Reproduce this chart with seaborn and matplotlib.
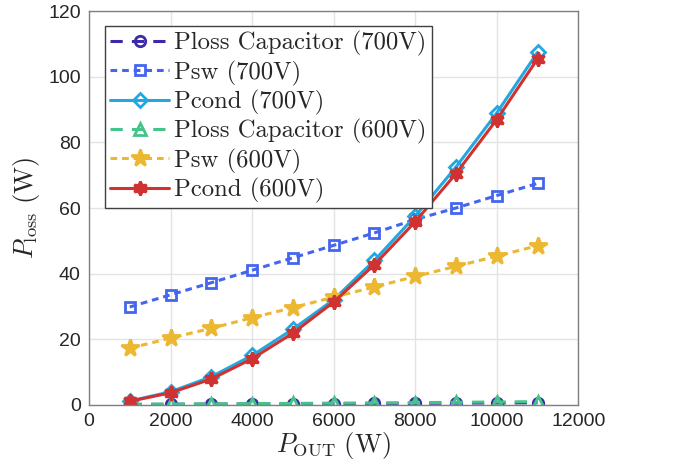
import matplotlib
matplotlib.use("Agg")
import matplotlib.pyplot as plt
import seaborn as sns
import pandas as pd

p_out = [1000, 2000, 3000, 4000, 5000, 6000, 7000, 8000, 9000, 10000, 11000]
ploss_cap_700 = [0.05, 0.1, 0.15, 0.2, 0.25, 0.3, 0.35, 0.4, 0.45, 0.5, 0.55]
psw_700 = [29.8, 33.5, 37.2, 41.0, 44.8, 48.6, 52.4, 56.5, 60.0, 63.8, 67.5]
pcond_700 = [1.1, 3.9, 8.5, 15.0, 23.0, 32.0, 44.0, 57.5, 72.5, 89.0, 107.5]
ploss_cap_600 = [0.1, 0.15, 0.2, 0.3, 0.35, 0.45, 0.5, 0.6, 0.7, 0.8, 0.9]
psw_600 = [17.2, 20.3, 23.3, 26.5, 29.6, 32.8, 35.9, 39.1, 42.2, 45.3, 48.5]
pcond_600 = [1.0, 3.6, 7.8, 14.0, 21.8, 31.3, 42.7, 55.8, 70.5, 87.0, 105.5]

labels = ["Ploss Capacitor (700V)", "Psw (700V)", "Pcond (700V)",
          "Ploss Capacitor (600V)", "Psw (600V)", "Pcond (600V)"]
series = [ploss_cap_700, psw_700, pcond_700, ploss_cap_600, psw_600, pcond_600]
x_ticks = [0, 2000, 4000, 6000, 8000, 10000, 12000]
y_ticks = [0, 20, 40, 60, 80, 100, 120]

sns.set_style("white")
plt.rcParams["mathtext.fontset"] = "cm"
plt.rcParams["font.family"] = ["Liberation Sans", "DejaVu Sans"]

styles = [
    dict(color="#3a2aa8", marker="o", linestyle=(0, (4, 3)), mfc="none", ms=7.5),
    dict(color="#4466ee", marker="s", linestyle=(0, (2.2, 1.6)), mfc="none", ms=6.5),
    dict(color="#22a8de", marker="D", linestyle="-", mfc="none", ms=7),
    dict(color="#44c48a", marker="^", linestyle=(0, (4, 3)), mfc="none", ms=8.5),
    dict(color="#ecb731", marker="*", linestyle=(0, (2.2, 1.6)), mfc="#ecb731", ms=13),
    dict(color="#d03232", marker=(6, 1, 0), linestyle="-", mfc="#d03232", ms=10),
]

fig = plt.figure(figsize=(6.74, 4.76), dpi=100)
ax = fig.add_axes([0.132, 0.150, 0.726, 0.826])

for lab, vals, st in zip(labels, series, styles):
    df = pd.DataFrame({"x": p_out, "y": vals})
    sns.lineplot(data=df, x="x", y="y", ax=ax, label=lab, color=st["color"],
                 marker=st["marker"], linestyle=st["linestyle"], lw=2.2,
                 markersize=st["ms"], markerfacecolor=st["mfc"],
                 markeredgecolor=st["color"], markeredgewidth=2.0)

ax.set_xlim(0, 12000)
ax.set_ylim(0, 120)
ax.set_xticks(x_ticks)
ax.set_yticks(y_ticks)
ax.grid(True, color="#e3e3e3", lw=1.0)
ax.set_axisbelow(True)
for sp in ax.spines.values():
    sp.set_color("#808080")
    sp.set_linewidth(1.0)
ax.tick_params(direction="in", length=4, color="#808080", labelsize=14,
               labelcolor="#262626", pad=6)
ax.set_xlabel(r"$P_{\mathrm{OUT}}\ (\mathrm{W})$", fontsize=19, color="#262626", labelpad=0)
ax.set_ylabel(r"$P_{\mathrm{loss}}\ (\mathrm{W})$", fontsize=19, color="#262626", labelpad=4)

leg = ax.legend(loc="upper left", bbox_to_anchor=(0.033, 0.962), frameon=True,
                fancybox=False, edgecolor="#404040", framealpha=1,
                prop={"family": "cmr10", "size": 17.8}, handlelength=2.4,
                handletextpad=0.2, borderpad=0.2, labelspacing=0.17,
                borderaxespad=0.0)
leg.get_frame().set_linewidth(1.0)

fig.savefig("out.png", dpi=100)
